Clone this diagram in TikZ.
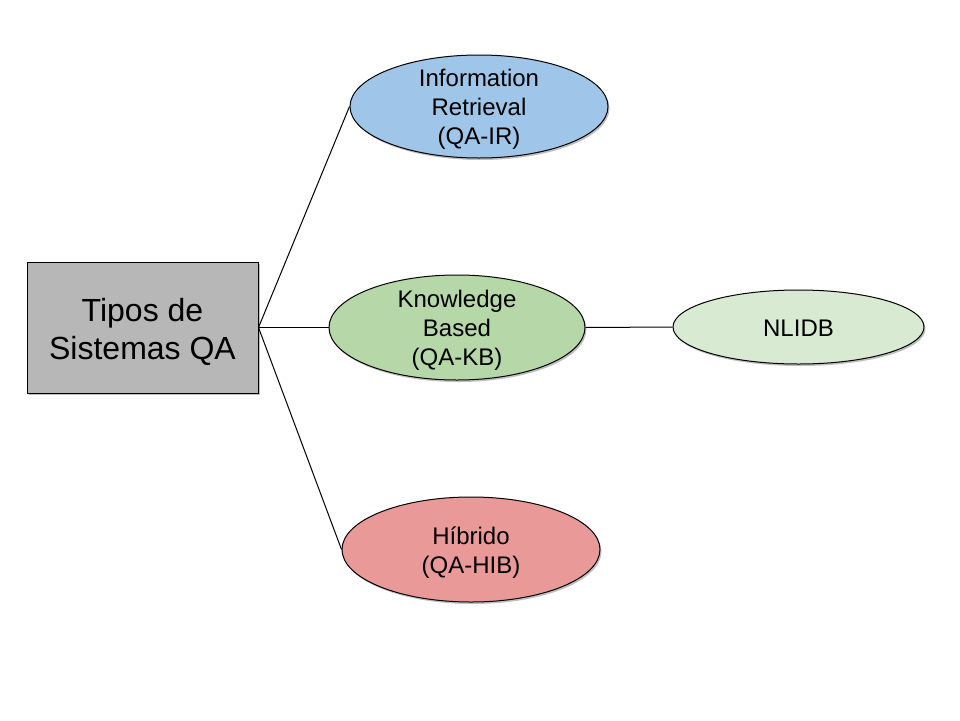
\documentclass[tikz,border=0pt]{standalone}
\usepackage{fontspec}
\setmainfont{Liberation Sans}
\usetikzlibrary{shapes.geometric,shadows}
\definecolor{cbox}{HTML}{B7B7B7}
\definecolor{cblue}{HTML}{9FC5E8}
\definecolor{cgreen}{HTML}{B6D7A8}
\definecolor{clight}{HTML}{D9EAD3}
\definecolor{cred}{HTML}{EA9999}
\tikzset{
  shad/.style={drop shadow={shadow xshift=1.5pt,shadow yshift=-2pt,fill=black,opacity=0.25}},
  oval/.style={ellipse,draw=black,line width=1pt,inner sep=0pt,shad},
  lbl/.style={align=center,font=\fontsize{24}{29}\selectfont,inner sep=0pt,yshift=-3pt},
  conn/.style={draw=black,line width=1pt}
}
\begin{document}
\begin{tikzpicture}[x=1pt,y=-1pt]
\useasboundingbox (0,0) rectangle (960,720);
\node[draw=black,line width=1pt,fill=cbox,minimum width=231pt,minimum height=131pt,inner sep=0pt,shad] (qa) at (142.5,327.5) {};
\node[align=center,font=\fontsize{32}{38}\selectfont,inner sep=0pt,yshift=-4pt] (qat) at (qa.center) {Tipos de\\Sistemas QA};
\node[oval,fill=cblue,minimum width=258pt,minimum height=103pt] (ir) at (479,106.5) {};
\node[lbl] (irt) at (ir.center) {Information\\Retrieval\\(QA-IR)};
\node[oval,fill=cgreen,minimum width=256pt,minimum height=105pt] (kb) at (457,327.5) {};
\node[lbl] (kbt) at (kb.center) {Knowledge\\Based\\(QA-KB)};
\node[oval,fill=clight,minimum width=251pt,minimum height=74pt] (nl) at (798.5,327) {};
\node[lbl,yshift=2pt] (nlt) at (nl.center) {NLIDB};
\node[oval,fill=cred,minimum width=258pt,minimum height=105pt] (hib) at (471,549.5) {};
\node[lbl] (hibt) at (hib.center) {Híbrido\\(QA-HIB)};
\draw[conn] (qa.east) -- (ir.west);
\draw[conn] (qa.east) -- (kb.west);
\draw[conn] (qa.east) -- (hib.west);
\draw[conn] (kb.east) -- (nl.west);
\end{tikzpicture}
\end{document}
